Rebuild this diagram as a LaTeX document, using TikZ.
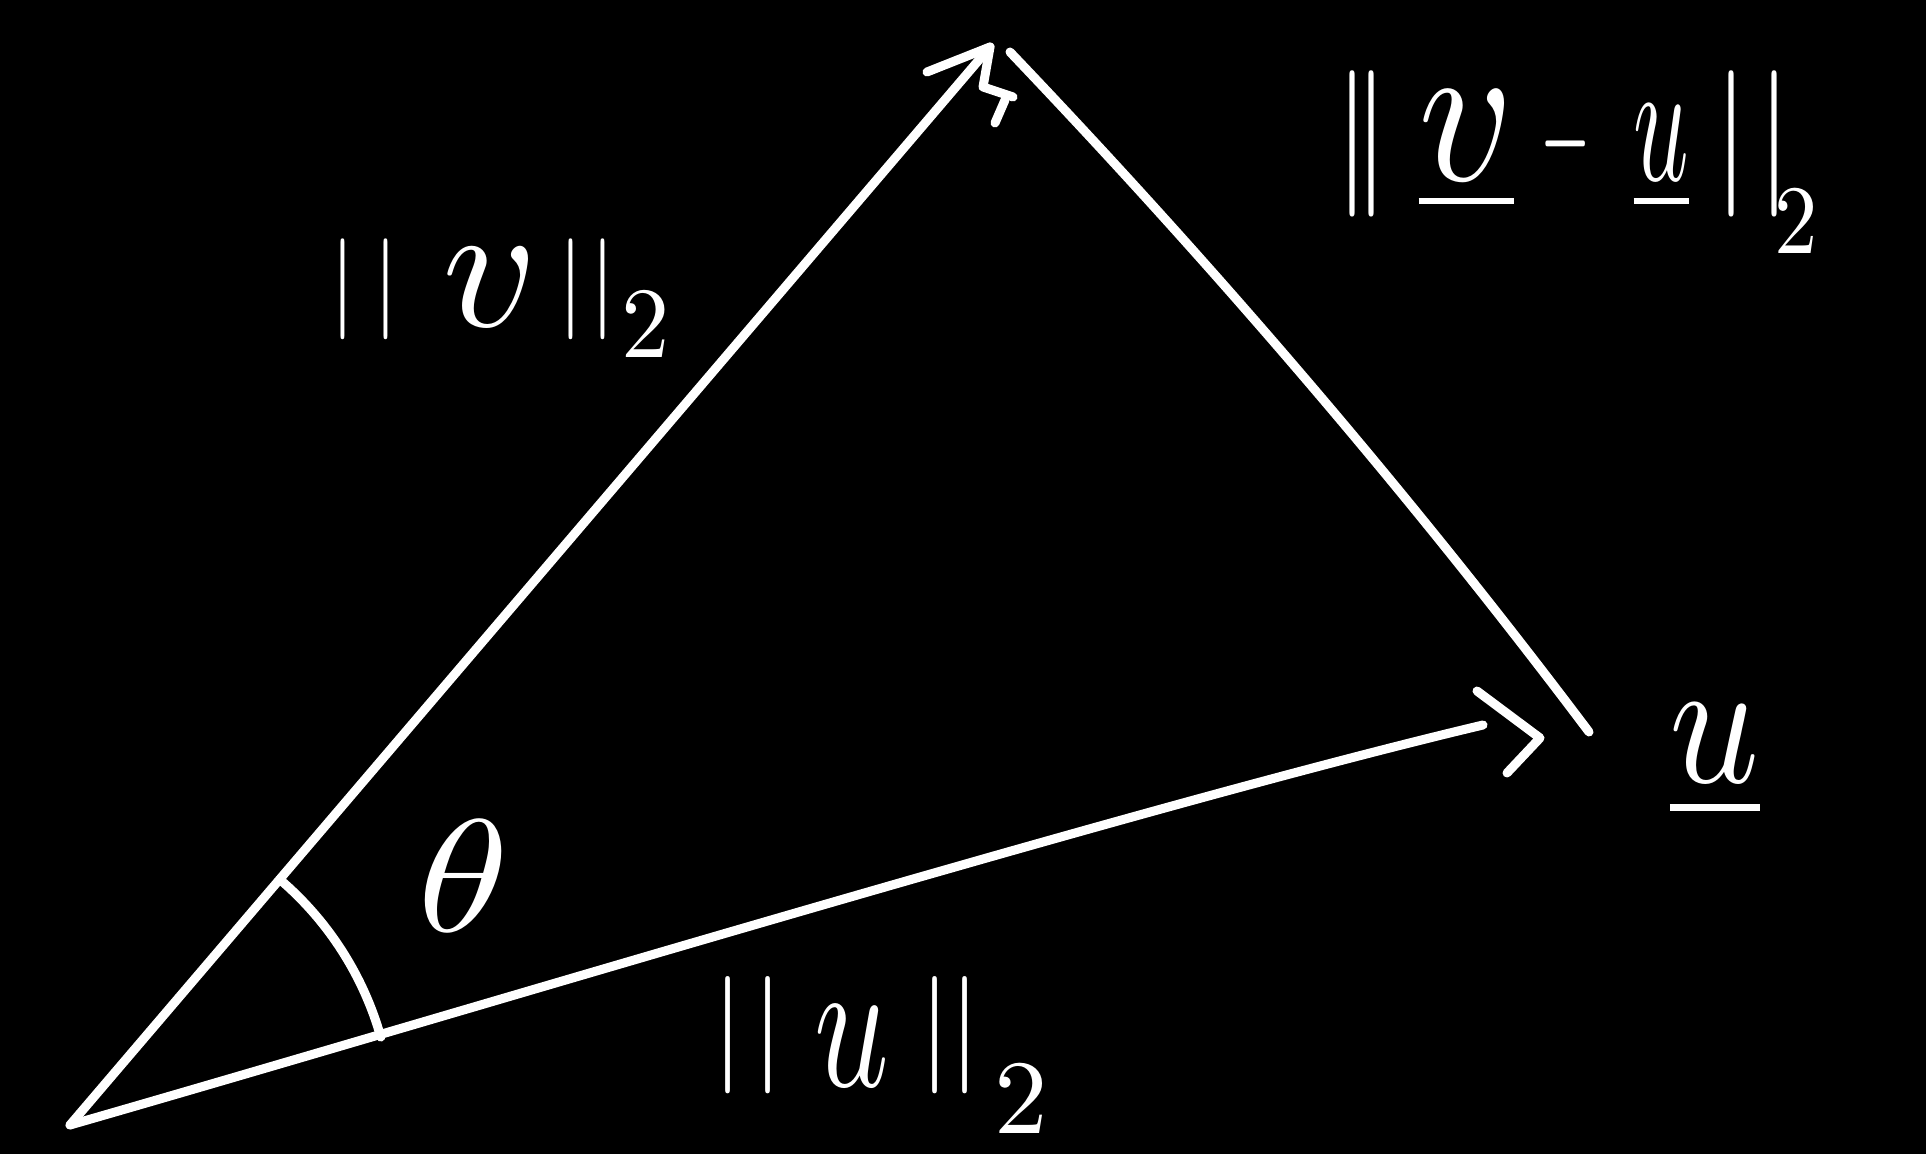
\documentclass[tikz,border=0pt]{standalone}
\usepackage{graphicx}
\usepackage{amsmath}
\tikzset{
  stroke/.style={draw=white, line width=9pt, line cap=round, line join=round},
  lab/.style={text=white, inner sep=0pt, outer sep=0pt},
}
\begin{document}
\begin{tikzpicture}[x=1pt,y=1pt]
\fill[black] (0,0) rectangle (1926,1154);
\useasboundingbox (0,0) rectangle (1926,1154);
% vertices
\coordinate (O) at (70,29);
\coordinate (V) at (990,1107);
\coordinate (Vb1) at (927,1082);
\coordinate (Vb2) at (983,1067);
\coordinate (Vs1) at (1013,1057);
\coordinate (Vs2) at (1005,1054);
\coordinate (Vs3) at (995,1031);
\coordinate (W1) at (1010,1102);
\coordinate (W2) at (1589,422);
\coordinate (Wc1) at (1216,886);
\coordinate (Wc2) at (1410,660);
\coordinate (Uc1) at (470,144);
\coordinate (Uc2) at (1133,346);
\coordinate (Ue) at (1483,429);
\coordinate (U) at (1540,416);
\coordinate (Ub1) at (1477,463);
\coordinate (Ub2) at (1507,381);
\coordinate (A1) at ([shift={(15.8:323)}]O);
% vector v
\draw[stroke] (O) -- (V);
\draw[stroke] (Vb1) -- (V) -- (Vb2) -- (Vs1);
\draw[stroke] (Vs2) -- (Vs3);
% v - u side
\draw[stroke] (W1) .. controls (Wc1) and (Wc2) .. (W2);
% vector u
\draw[stroke] (O) .. controls (Uc1) and (Uc2) .. (Ue);
\draw[stroke] (Ub1) -- (U) -- (Ub2);
% angle
\draw[stroke] (A1) arc[start angle=15.8, end angle=49.5, radius=323];
% labels
\node[lab] (theta) at (464,278) {\resizebox*{92pt}{111pt}{$\theta$}};
\node[lab] (nv) at (500,856) {\resizebox*{340pt}{118pt}{$|\mkern3mu|\mkern8mu\raisebox{-0.12em}{\scalebox{1.9}[1.8]{$v$}}\mkern3.5mu|\mkern1mu|\mkern1mu\raisebox{-0.42em}{2}$}};
\node[lab] (nvu) at (1576,992) {\resizebox*{483pt}{183pt}{$|\mkern-2.3mu|\mkern4mu\underline{\scalebox{1.42}{$v$}}\mkern3.6mu\scalebox{0.5}[1]{$-$}\mkern6mu\underline{\scalebox{0.75}[1.2]{$u$}}\mkern3.3mu|\mkern1mu|\mkern-2.5mu\raisebox{-0.5em}{\scalebox{0.67}{2}}$}};
\node[lab] (nu) at (880,99) {\resizebox*{336pt}{156pt}{$|\mkern1mu|\mkern4.5mu\raisebox{-0.18em}{\scalebox{1.1}[1.6]{$u$}}\mkern4.5mu|\mkern-0.5mu|\mkern2mu\raisebox{-0.58em}{\scalebox{0.9}{2}}$}};
\node[lab] (ul) at (1715,393) {\resizebox*{90pt}{115pt}{$\underline{u}$}};
\end{tikzpicture}
\end{document}
